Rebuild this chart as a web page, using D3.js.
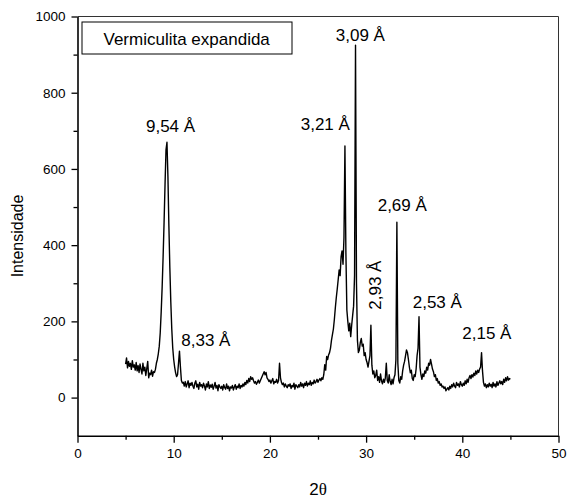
<!DOCTYPE html>
<html>
<script src="https://d3js.org/d3.v7.min.js"></script>
<style>
  body { margin: 0; background: #fff; }
  svg text { font-family: "Liberation Sans", Arial, sans-serif; fill: #000; }
  .axis path, .axis line { stroke: #000; }
</style>
<body>
<svg width="567" height="498"></svg>
<script>
// XRD pattern, 2θ from 5 to 45 in steps of 0.1
const twoThetaStart = 5;
const twoThetaStep = 0.1;
const intensity = [
  88, 104, 78, 95, 82, 90, 74, 97, 80, 86,          // 5
  72, 92, 70, 84, 66, 88, 74, 62, 90, 70,           // 6
  80, 58, 76, 95, 52, 64, 60, 72, 56, 68,           // 7
  66, 74, 90, 100, 115, 135, 170, 225, 290, 370,    // 8
  460, 560, 650, 670, 580, 450, 340, 250, 180, 130, // 9
  100, 80, 65, 55, 60, 90, 122, 80, 45, 38,         // 10
  40, 30, 42, 28, 36, 44, 26, 38, 32, 40,           // 11
  30, 24, 38, 44, 28, 35, 22, 40, 30, 34,           // 12
  26, 38, 30, 20, 36, 28, 42, 24, 33, 27,           // 13
  35, 22, 30, 40, 25, 32, 18, 34, 28, 24,           // 14
  30, 20, 34, 26, 22, 36, 24, 30, 18, 28,           // 15
  25, 32, 20, 28, 34, 22, 30, 26, 36, 24,           // 16
  32, 28, 36, 30, 40, 34, 45, 38, 50, 42,           // 17
  55, 48, 52, 44, 38, 42, 35, 40, 46, 38,           // 18
  44, 50, 56, 62, 68, 60, 66, 52, 48, 42,           // 19
  46, 38, 44, 50, 36, 42, 40, 48, 38, 45,           // 20
  90, 52, 40, 34, 38, 28, 36, 30, 26, 34,           // 21
  30, 36, 24, 32, 28, 38, 22, 34, 30, 26,           // 22
  34, 28, 40, 30, 36, 26, 38, 32, 42, 30,           // 23
  38, 34, 44, 32, 40, 36, 46, 38, 42, 48,           // 24
  40, 46, 50, 44, 52, 48, 60, 86, 72, 108,          // 25
  100, 112, 118, 130, 150, 165, 180, 205, 235, 262, // 26
  285, 310, 335, 320, 370, 385, 350, 420, 660, 380, // 27
  230, 200, 175, 195, 160, 190, 215, 240, 320, 925, // 28
  300, 150, 118, 125, 145, 155, 135, 140, 110, 118, // 29
  100, 92, 80, 95, 110, 190, 85, 62, 70, 52,        // 30
  58, 72, 45, 55, 40, 62, 44, 36, 48, 40,           // 31
  52, 90, 45, 38, 60, 42, 34, 48, 36, 52,           // 32
  60, 100, 460, 90, 45, 38, 55, 48, 70, 85,         // 33
  95, 110, 125, 118, 100, 80, 65, 72, 50, 45,       // 34
  60, 55, 75, 110, 130, 212, 80, 60, 48, 62,        // 35
  55, 70, 64, 80, 72, 90, 85, 100, 88, 75,          // 36
  68, 55, 60, 45, 50, 38, 42, 32, 36, 28,           // 37
  30, 24, 28, 18, 22, 26, 20, 30, 24, 34,           // 38
  28, 38, 30, 26, 40, 32, 36, 28, 42, 34,           // 39
  30, 38, 32, 44, 36, 48, 40, 52, 58, 50,           // 40
  60, 54, 64, 58, 70, 62, 72, 66, 75, 80,           // 41
  118, 70, 40, 30, 36, 26, 34, 28, 38, 30,          // 42
  35, 26, 40, 30, 36, 28, 42, 32, 38, 44,           // 43
  36, 42, 34, 48, 40, 52, 44, 55, 46, 50,           // 44
  48                                                // 45
];

const xTicks = [0, 10, 20, 30, 40, 50];
const xMinorTicks = [5, 15, 25, 35, 45];
const yTicks = [0, 200, 400, 600, 800, 1000];
const yMinorTicks = [100, 300, 500, 700, 900];

// peak labels, anchored in data units (centre / baseline of the text)
const peakText = ["9,54 Å", "8,33 Å", "3,21 Å", "3,09 Å", "2,93 Å", "2,69 Å", "2,53 Å", "2,15 Å"];
const peakTextX = [9.67, 13.34, 25.76, 29.40, 31.55, 33.76, 37.40, 42.55];
const peakTextY = [697, 136, 702, 937, 295, 489, 236, 154];
const peakTextRotated = [false, false, false, false, true, false, false, false];

const legendText = "Vermiculita expandida";

const svg = d3.select("svg");
const mLeft = 77.5, mRight = 558.5, mTop = 16.5, mBottom = 435.7;

const x = d3.scaleLinear().domain([0, 50]).range([mLeft, mRight]);
const y = d3.scaleLinear().domain([-100, 1000]).range([mBottom, mTop]);

const points = intensity.map((v, i) => [twoThetaStart + i * twoThetaStep, v]);

// frame (top and right)
svg.append("path")
  .attr("d", `M${mLeft},${mTop}H${mRight}V${mBottom}`)
  .attr("fill", "none")
  .attr("stroke", "#333")
  .attr("stroke-width", 1);

// minor ticks
svg.append("g").attr("class", "axis")
  .attr("transform", `translate(0,${mBottom})`)
  .call(d3.axisBottom(x).tickValues(xMinorTicks).tickSize(4).tickFormat(""))
  .call(g => g.select(".domain").remove())
  .selectAll("line").attr("stroke-width", 1.3);

svg.append("g").attr("class", "axis")
  .attr("transform", `translate(${mLeft},0)`)
  .call(d3.axisLeft(y).tickValues(yMinorTicks).tickSize(4).tickFormat(""))
  .call(g => g.select(".domain").remove())
  .selectAll("line").attr("stroke-width", 1.3);

// major axes
const xAxis = svg.append("g").attr("class", "axis")
  .attr("transform", `translate(0,${mBottom})`)
  .call(d3.axisBottom(x).tickValues(xTicks).tickFormat(d3.format("d"))
    .tickSize(7).tickSizeOuter(0).tickPadding(6));
xAxis.select(".domain").attr("stroke-width", 1.6);
xAxis.selectAll("line").attr("stroke-width", 1.3);
xAxis.selectAll("text").attr("font-size", "13.5px").attr("fill", "#000")
  .attr("font-family", "Liberation Sans, Arial, sans-serif");

const yAxis = svg.append("g").attr("class", "axis")
  .attr("transform", `translate(${mLeft},0)`)
  .call(d3.axisLeft(y).tickValues(yTicks).tickFormat(d3.format("d"))
    .tickSize(6).tickSizeOuter(0).tickPadding(6));
yAxis.select(".domain").attr("stroke-width", 1.6);
yAxis.selectAll("line").attr("stroke-width", 1.3);
yAxis.selectAll("text").attr("font-size", "13.5px").attr("fill", "#000")
  .attr("font-family", "Liberation Sans, Arial, sans-serif");

// pattern
svg.append("path")
  .datum(points)
  .attr("fill", "none")
  .attr("stroke", "#000")
  .attr("stroke-width", 1.4)
  .attr("stroke-linejoin", "round")
  .attr("d", d3.line().x(d => x(d[0])).y(d => y(d[1])));

// peak labels
peakText.forEach((t, i) => {
  const px = x(peakTextX[i]), py = y(peakTextY[i]);
  svg.append("text")
    .attr("text-anchor", "middle")
    .attr("font-size", "17px")
    .attr("transform", peakTextRotated[i]
      ? `translate(${px},${py}) rotate(-90)`
      : `translate(${px},${py})`)
    .text(t);
});

// legend box
svg.append("rect")
  .attr("x", 82).attr("y", 22).attr("width", 210).attr("height", 32)
  .attr("fill", "#fff").attr("stroke", "#000").attr("stroke-width", 1);
svg.append("text")
  .attr("x", 103.5).attr("y", 44.5)
  .attr("font-size", "17px")
  .text(legendText);

// axis titles
svg.append("text")
  .attr("text-anchor", "middle")
  .attr("font-size", "16px")
  .attr("transform", "translate(23,236) rotate(-90)")
  .text("Intensidade");

const xt = svg.append("text")
  .attr("text-anchor", "middle")
  .attr("x", 318).attr("y", 495)
  .attr("font-size", "17px");
xt.append("tspan").text("2");
xt.append("tspan").attr("font-family", "Liberation Serif, Times New Roman, serif").text("θ");
</script>
</body>
</html>
